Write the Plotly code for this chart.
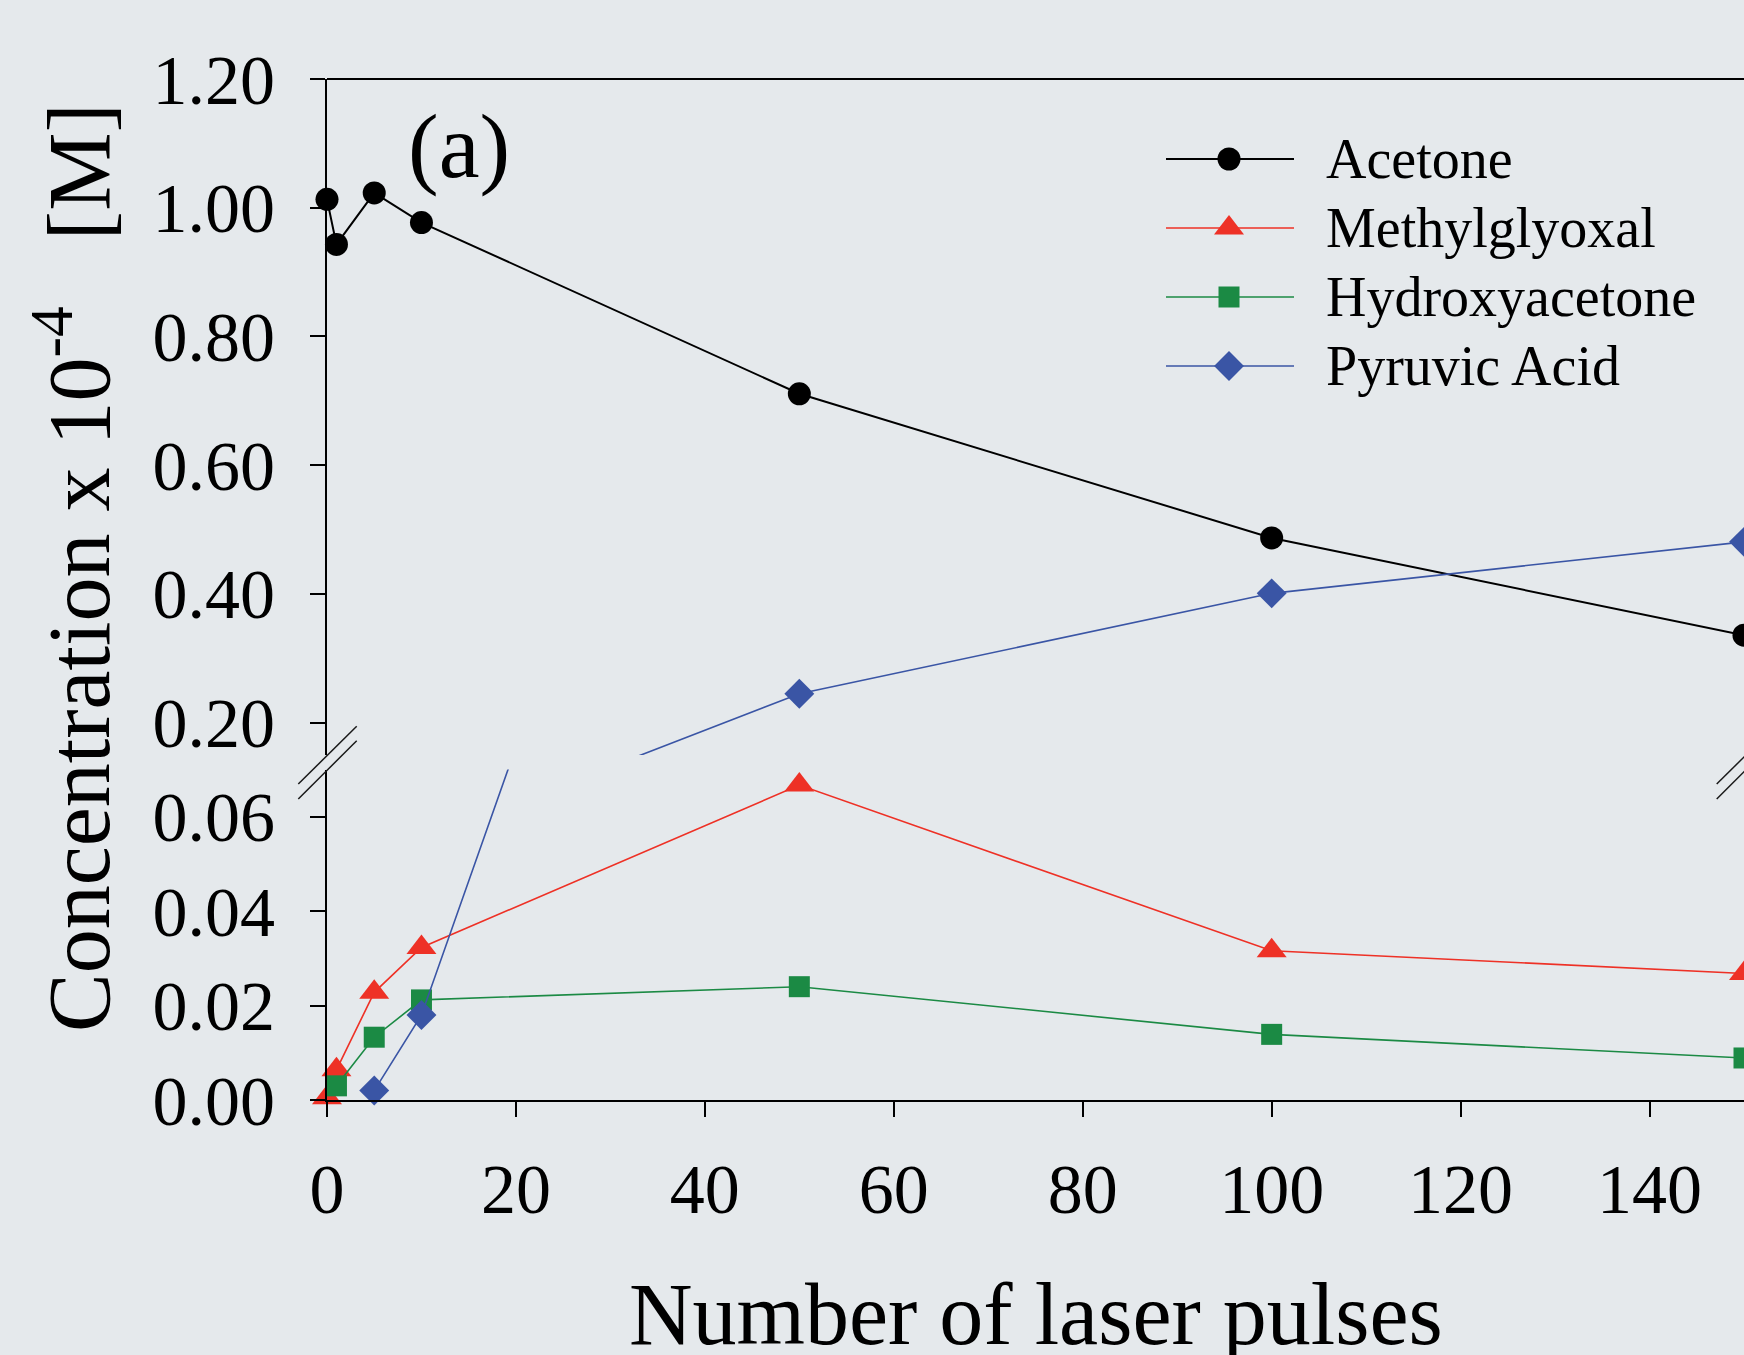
import plotly.graph_objects as go

# ---------------- data ----------------
series_names = ["Acetone", "Methylglyoxal", "Hydroxyacetone", "Pyruvic Acid"]

x_acetone = [0, 1, 5, 10, 50, 100, 150]
y_acetone = [1.013, 0.943, 1.023, 0.977, 0.711, 0.487, 0.336]

x_methyl = [0, 1, 5, 10, 50, 100, 150]
y_methyl = [0.0005, 0.0064, 0.0228, 0.0323, 0.0667, 0.0316, 0.0268]

x_hydroxy = [1, 5, 10, 50, 100, 150]
y_hydroxy = [0.0030, 0.0133, 0.0212, 0.0240, 0.0139, 0.0089]

x_pyruvic = [5, 10, 50, 100, 150]
y_pyruvic = [0.002, 0.018, 0.245, 0.401, 0.481]

x_ticks = [0, 20, 40, 60, 80, 100, 120, 140]
upper_ticks = [0.20, 0.40, 0.60, 0.80, 1.00, 1.20]
lower_ticks = [0.00, 0.02, 0.04, 0.06]

x_range = [0, 150]
upper_range = [0.15, 1.20]
lower_range = [0.0, 0.07]

# ---------------- styling ----------------
FONT = "Liberation Serif"
BG = "#e5e9ec"
W, H = 1744, 1355
L, R, T, B = 327, 0, 79, 255
PW, PH = W - L - R, H - T - B

styles = [
    dict(color="#000000", symbol="circle", size=23, width=2.0),
    dict(color="#ee3126", symbol="triangle-up", size=26, width=1.6),
    dict(color="#1b8a44", symbol="square", size=21, width=1.6),
    dict(color="#3a55a5", symbol="diamond", size=23, width=1.6),
]
data = [(x_acetone, y_acetone), (x_methyl, y_methyl),
        (x_hydroxy, y_hydroxy), (x_pyruvic, y_pyruvic)]


def px_x(px):
    return (px - L) / PW


def px_y(py):
    return (H - B - py) / PH


lower_top = px_y(769.5)
upper_bottom = px_y(754.9)

fig = go.Figure()

# each series drawn on both halves of the broken axis; clipping does the rest
for (xs, ys), st, name in zip(data, styles, series_names):
    for yax in ("y", "y2"):
        fig.add_trace(go.Scatter(
            x=xs, y=ys, xaxis="x", yaxis=yax, name=name, mode="lines+markers",
            line=dict(color=st["color"], width=st["width"]),
            marker=dict(color=st["color"], symbol=st["symbol"], size=st["size"],
                        opacity=1, line=dict(width=0)),
            cliponaxis=False, showlegend=False, hoverinfo="x+y+name"))

# hand-drawn legend (long line keys as in the reference)
leg_line_x = [1166, 1294]
leg_marker_x = [1229]
leg_row0, leg_step = 159, 69
annotations = []
for i, (st, name) in enumerate(zip(styles, series_names)):
    row = leg_row0 + leg_step * i
    fig.add_trace(go.Scatter(
        x=leg_line_x, y=[row] * 2, xaxis="x3", yaxis="y3", mode="lines",
        line=dict(color=st["color"], width=st["width"]),
        showlegend=False, hoverinfo="skip", cliponaxis=False))
    fig.add_trace(go.Scatter(
        x=leg_marker_x, y=[row], xaxis="x3", yaxis="y3", mode="markers",
        marker=dict(color=st["color"], symbol=st["symbol"], size=st["size"],
                    opacity=1, line=dict(width=0)),
        showlegend=False, hoverinfo="skip", cliponaxis=False))
    annotations.append(dict(
        text=name, x=px_x(1324), y=px_y(row), xref="paper", yref="paper",
        xanchor="left", yanchor="middle", showarrow=False,
        font=dict(family=FONT, size=56, color="black")))

annotations += [
    dict(text="(a)", x=px_x(459), y=px_y(146), xref="paper", yref="paper",
         xanchor="center", yanchor="middle", showarrow=False,
         font=dict(family=FONT, size=92, color="black")),
    dict(text="Number of laser pulses", x=0.5, y=px_y(1314), xref="paper",
         yref="paper", xanchor="center", yanchor="middle", showarrow=False,
         font=dict(family=FONT, size=88, color="black")),
    dict(text="Concentration x 10<sup>-4</sup>\u00a0\u00a0\u00a0[M]",
         x=px_x(72), y=px_y(568), xref="paper", yref="paper", textangle=-90,
         xanchor="center", yanchor="middle", showarrow=False,
         font=dict(family=FONT, size=88, color="black")),
]

# top frame line and axis-break marks
shapes = [dict(type="line", xref="paper", yref="paper", x0=0, x1=1, y0=1, y1=1,
               line=dict(color="black", width=2))]
break_segments = [((298.3, 784.0), (356.7, 726.3)), ((298.3, 799.0), (356.7, 740.7))]
for dx in (0, PW + 1.4):
    for (xa, ya), (xb, yb) in break_segments:
        shapes.append(dict(type="line", xref="paper", yref="paper",
                           x0=px_x(xa + dx), y0=px_y(ya), x1=px_x(xb + dx), y1=px_y(yb),
                           line=dict(color="#1a1a1a", width=1.5)))

axis_common = dict(showgrid=False, zeroline=False, showline=True, linecolor="black",
                   linewidth=2, ticks="outside", ticklen=15, tickwidth=2,
                   tickcolor="black", automargin=False,
                   tickfont=dict(family=FONT, size=70, color="black"))

fig.update_layout(
    width=W, height=H,
    margin=dict(l=L, r=R, t=T, b=B, pad=0),
    paper_bgcolor=BG, plot_bgcolor="rgba(0,0,0,0)",
    showlegend=False,
    xaxis=dict(domain=[0, 1], range=x_range, anchor="y", tickmode="array",
               tickvals=x_ticks, ticklabelstandoff=12, **axis_common),
    yaxis=dict(domain=[0, lower_top], range=lower_range, anchor="x", tickmode="array",
               tickvals=lower_ticks, tickformat=".2f", ticklabelstandoff=21,
               **axis_common),
    yaxis2=dict(domain=[upper_bottom, 1], range=upper_range, anchor="x",
                tickmode="array", tickvals=upper_ticks, tickformat=".2f",
                ticklabelstandoff=21, **axis_common),
    xaxis3=dict(domain=[0, 1], range=[L, W - R], anchor="y3", visible=False,
                fixedrange=True),
    yaxis3=dict(domain=[0, 1], range=[H - B, T], anchor="x3", visible=False,
                fixedrange=True),
    annotations=annotations,
    shapes=shapes,
)

fig.write_html(
    "out.html",
    config={"displayModeBar": False},
    post_script="document.body.style.margin='0';"
                "document.body.style.overflow='hidden';"
                "document.body.style.background='" + BG + "';",
)
